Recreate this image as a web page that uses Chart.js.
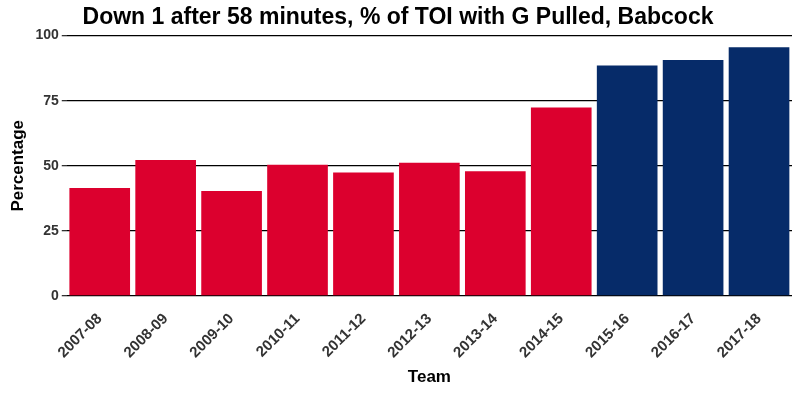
<!DOCTYPE html>
<html><head><script src="https://cdn.jsdelivr.net/npm/chart.js"></script>
<style>body{margin:0;background:#fff}#w{width:800px;height:400px}</style></head>
<body><div id="w"><canvas id="c"></canvas></div>
<script>
const categories=["2007-08","2008-09","2009-10","2010-11","2011-12","2012-13","2013-14","2014-15","2015-16","2016-17","2017-18"];
const values=[41.5,52.2,40.3,50.4,47.4,51.2,47.9,72.4,88.5,90.6,95.5];
const barColors=["#DC002E","#DC002E","#DC002E","#DC002E","#DC002E","#DC002E","#DC002E","#DC002E","#062B69","#062B69","#062B69"];
const yTicks=[0,25,50,75,100];
Chart.defaults.font.family="Liberation Sans, Arial, sans-serif";
new Chart(document.getElementById('c'),{type:'bar',
data:{labels:categories,datasets:[{data:values,backgroundColor:barColors,categoryPercentage:1,barPercentage:0.92}]},
options:{responsive:true,maintainAspectRatio:false,animation:false,
layout:{padding:{left:4,right:8,top:0,bottom:8}},
plugins:{legend:{display:false},title:{display:true,text:"Down 1 after 58 minutes, % of TOI with G Pulled, Babcock",color:"#000",font:{size:23,weight:'bold'},padding:{top:4,bottom:4}}},
scales:{
x:{grid:{display:false},border:{display:false},ticks:{color:"#333",font:{size:15,weight:'bold'},maxRotation:45,minRotation:45,padding:6},title:{display:true,text:"Team",color:"#000",font:{size:17,weight:'bold'},padding:{top:0}}},
y:{min:0,max:100,afterBuildTicks:a=>{a.ticks=yTicks.map(v=>({value:v}))},grid:{color:"#000",lineWidth:1.3,tickLength:5,tickColor:"#333"},border:{display:false},ticks:{color:"#333",font:{size:14,weight:'bold'}},title:{display:true,text:"Percentage",color:"#000",font:{size:17,weight:'bold'}}}
}}});
</script></body></html>
